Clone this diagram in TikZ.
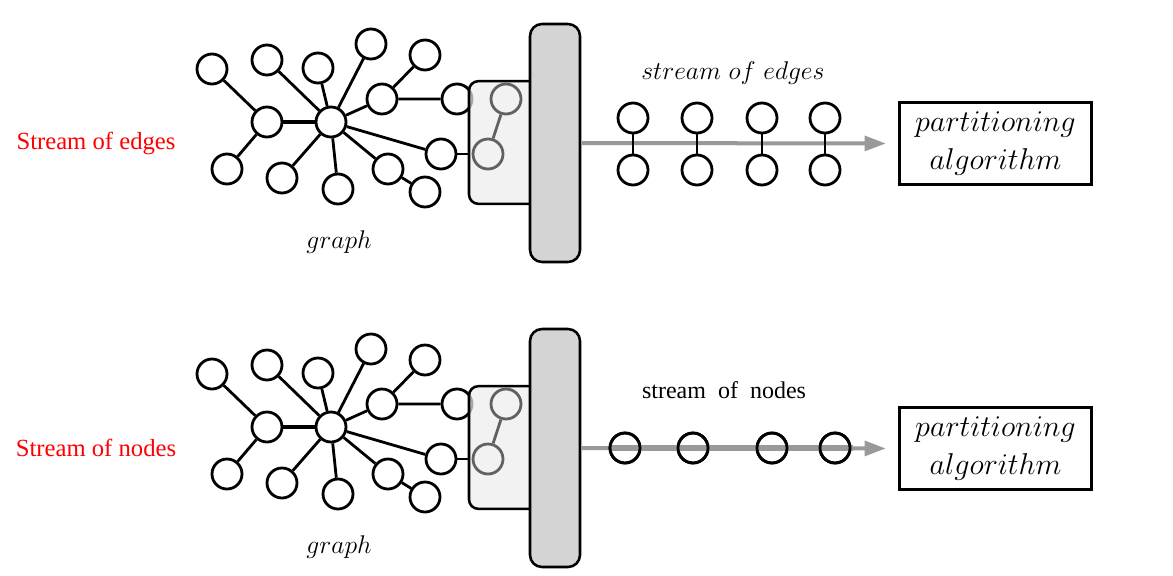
\RequirePackage{fix-cm}
\documentclass[tikz,border=0pt]{standalone}
\usepackage{fontspec}
\newfontfamily\timesfont{Liberation Serif}
\usetikzlibrary{arrows.meta,positioning,calc}
\newcommand{\pxu}{0.75pt}
\colorlet{barfill}{black!17}
\colorlet{slotfill}{black!7}
\colorlet{ghostgray}{black!62}
\colorlet{flowgray}{black!40}
\tikzset{
    vtxsty/.style={draw,fill=white,circle,line width=2.1pt,minimum size=22.5pt,inner sep=0pt},
    ghoststy/.style={draw=ghostgray,circle,line width=2.1pt,minimum size=22.5pt,inner sep=0pt},
    hollowsty/.style={draw,circle,line width=2.1pt,minimum size=22.5pt,inner sep=0pt},
    edgesty/.style={line width=2.1pt},
    slotsty/.style={draw,fill=slotfill,fill opacity=0.7,rounded corners=7pt,line width=1.9pt,minimum width=57pt,minimum height=92pt},
    barsty/.style={draw,fill=barfill,rounded corners=9pt,line width=1.9pt,minimum width=37.5pt,minimum height=178.5pt},
    algsty/.style={draw,line width=2.4pt,minimum width=144pt,minimum height=62pt,align=center,font=\fontsize{22.6}{29}\selectfont},
    flowsty/.style={draw=flowgray,line width=3pt,shorten >=9pt,-{Triangle[length=16pt,width=11pt]}},
    redsty/.style={text=red,font=\timesfont\fontsize{18.5}{20}\selectfont},
    mitsty/.style={font=\fontsize{19.2}{24}\selectfont},
}

\begin{document}
\begin{tikzpicture}[>=latex]
\useasboundingbox (0,0) rectangle (1173*\pxu,-575*\pxu);

\foreach \s/\dy/\lbl in {e/0/Stream of edges, n/305/Stream of nodes}
{
\begin{scope}[yshift=-\dy*\pxu]
% graph
\node (A\s) [vtxsty] at (212*\pxu, -69*\pxu) {};
\node (B\s) [vtxsty] at (267*\pxu, -60*\pxu) {};
\node (C\s) [vtxsty] at (318*\pxu, -68*\pxu) {};
\node (D\s) [vtxsty] at (371*\pxu, -44*\pxu) {};
\node (E\s) [vtxsty] at (425*\pxu, -55*\pxu) {};
\node (F\s) [vtxsty] at (267*\pxu, -122*\pxu) {};
\node (H\s) [vtxsty] at (331*\pxu, -122*\pxu) {};
\node (G\s) [vtxsty] at (382*\pxu, -99*\pxu) {};
\node (I\s) [vtxsty] at (457*\pxu, -99*\pxu) {};
\node (J\s) [vtxsty] at (227*\pxu, -169*\pxu) {};
\node (K\s) [vtxsty] at (282*\pxu, -178*\pxu) {};
\node (L\s) [vtxsty] at (338*\pxu, -189*\pxu) {};
\node (M\s) [vtxsty] at (388*\pxu, -169*\pxu) {};
\node (N\s) [vtxsty] at (425*\pxu, -192*\pxu) {};
\node (O\s) [vtxsty] at (441*\pxu, -154*\pxu) {};
\draw [edgesty] (A\s) -- (F\s) (F\s) -- (J\s) (B\s) -- (H\s) (C\s) -- (H\s)
    (D\s) -- (H\s) (G\s) -- (H\s) (E\s) -- (G\s) (G\s) -- (I\s)
    (H\s) -- (K\s) (H\s) -- (L\s) (H\s) -- (M\s) (M\s) -- (N\s) (H\s) -- (O\s);
\draw [line width=3.2pt] (F\s) -- (H\s);
\node (gl\s) [mitsty] at (339*\pxu, -242*\pxu) {$graph$};
% reader
\node (slot\s) [slotsty] at (507*\pxu, -142.5*\pxu) {};
\node (P\s) [ghoststy] at (506*\pxu, -99*\pxu) {};
\node (Q\s) [ghoststy] at (488*\pxu, -154*\pxu) {};
\draw [edgesty, ghostgray] (P\s) -- (Q\s);
\draw [edgesty] (O\s) -- (slot\s.west |- O\s);
\node (bar\s) [barsty] at (555*\pxu, -143*\pxu) {};
\node (alg\s) [algsty] at (995.5*\pxu, -143.5*\pxu) {$partitioning$\\$algorithm$};
\node (lbl\s) [redsty] at (96*\pxu, -143*\pxu) {\lbl};
\end{scope}
}

% stream of edges
\draw [flowsty] (bare.east) -- (alge.west);
\node (sel) [mitsty] at (733*\pxu, -73*\pxu) {$stream\ of\ edges$};
\foreach \i/\x in {1/633,2/697,3/762,4/825}
{
\node (et\i) [vtxsty] at (\x*\pxu, -118*\pxu) {};
\node (eb\i) [vtxsty] at (\x*\pxu, -170*\pxu) {};
\draw [edgesty] (et\i) -- (eb\i);
}

% stream of nodes
\draw [flowsty] (barn.east) -- (algn.west);
\node (snl) [font=\timesfont\fontsize{18}{20}\selectfont] at (724*\pxu, -390*\pxu) {stream\ \ of\ \ nodes};
\foreach \i/\x in {1/625,2/693,3/772,4/835}
{
\node (nn\i) [hollowsty] at (\x*\pxu, -448*\pxu) {};
}
\draw [black!40, line width=3.8pt] (nn1.west) -- ($(nn4.east)+(2*\pxu,0)$);
\foreach \i in {1,...,4}
{
\node [hollowsty] at (nn\i) {};
}

\end{tikzpicture}
\end{document}
